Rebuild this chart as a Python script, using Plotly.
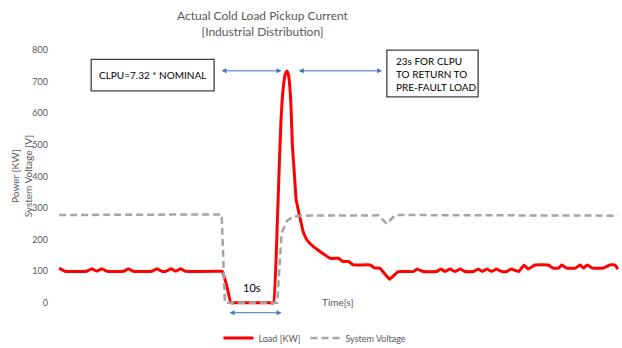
import plotly.graph_objects as go

# Load [KW] trace (time in s, value)
load_t = [0, 1.1, 5.1, 6.0, 7.0, 7.9, 8.8, 12.0, 12.8, 13.7, 17.2, 18.1, 19.0, 19.8, 20.7, 21.6, 22.5, 23.4,
          29.6, 30.2, 31.1, 31.8, 32.5, 39.0, 39.7, 40.4, 40.7, 41.1, 41.5, 41.9, 42.2, 42.5, 42.9, 43.2, 43.6, 43.9, 44.6, 45.2,
          45.9, 47.1, 50.2, 51.7, 52.6, 53.6, 54.5, 57.6, 58.5, 59.4, 61.2, 62.8, 65.6, 66.3, 67.4, 69.9, 70.7,
          71.5, 72.4, 73.3, 74.3, 75.2, 76.7, 77.6, 78.4, 79.2, 80.1, 81.0, 82.0, 82.9, 83.7, 85.1, 86.1, 86.9,
          88.1, 90.6, 91.5, 92.5, 93.1, 94.0, 95.6, 96.5, 97.1, 97.8, 98.8, 100.8, 102.0, 102.9, 103.5]
load_v = [110, 100, 100, 108, 100, 108, 100, 100, 108, 100, 100, 108, 100, 100, 108, 100, 108, 100,
          100, 100, 50, 0, 0, 0, 0, 250, 400, 580, 680, 725, 734, 720, 640, 500, 400, 326, 270, 225,
          199, 178, 141, 141, 131, 131, 120, 120, 110, 110, 75, 99, 99, 107, 99, 99, 107,
          99, 107, 99, 107, 99, 99, 107, 99, 107, 99, 107, 99, 99, 107, 99, 119, 107,
          120, 120, 110, 110, 120, 110, 110, 120, 110, 120, 110, 110, 120, 120, 107]

# System Voltage [V] trace
volt_t = [0, 29.8, 30.1, 30.7, 40.4, 41.2, 42.2, 43.4, 45.0, 59.1, 60.7, 62.2, 103.5]
volt_v = [278, 278, 280, 0, 0, 221, 260, 273, 276, 277, 250, 278, 276]

TXT = "#595959"
FONT = "Lato"

fig = go.Figure()
fig.add_trace(go.Scatter(x=load_t, y=load_v, mode="lines", name="Load [KW]",
                         line=dict(color="#FF0000", width=3, shape="spline", smoothing=0.3)))
fig.add_trace(go.Scatter(x=volt_t, y=volt_v, mode="lines", name="System Voltage",
                         line=dict(color="#A5A5A5", width=2.5, dash="7px,4px")))

fig.update_layout(
    width=622, height=348,
    margin=dict(l=57, r=3, t=47, b=42),
    paper_bgcolor="white", plot_bgcolor="white",
    font=dict(family=FONT, color=TXT, size=10),
    xaxis=dict(range=[-0.4, 103.7], showticklabels=False, showgrid=False, zeroline=False,
               showline=False, ticks=""),
    yaxis=dict(range=[-10, 810], tickvals=[0, 100, 200, 300, 400, 500, 600, 700, 800],
               showgrid=False, zeroline=False, showline=False, ticks="",
               ticklabelstandoff=8, tickfont=dict(size=9, color=TXT)),
    legend=dict(orientation="h", x=0.459, xanchor="center",
                yref="container", y=1 - 338 / 348, yanchor="middle",
                font=dict(size=9, color=TXT), bgcolor="rgba(0,0,0,0)"),
    showlegend=True,
)

# Boxes
fig.add_shape(type="rect", xref="x", yref="y", x0=5.93, x1=28.7, y0=671, y1=771,
              line=dict(color="#404040", width=1.3), fillcolor="white")
fig.add_shape(type="rect", xref="x", yref="y", x0=60.7, x1=77.6, y0=652, y1=800,
              line=dict(color="#404040", width=1.3), fillcolor="white")

ann = []
ann.append(dict(x=(263 - 57) / 562, y=(306 - 6) / 259, xref="paper", yref="paper",
                xanchor="center", yanchor="top",
                text="Actual Cold Load Pickup Current<br>[Industrial Distribution]", showarrow=False,
                font=dict(size=12, color=TXT)))
ann.append(dict(x=17.3, y=721, xref="x", yref="y", text="CLPU=7.32 * NOMINAL", showarrow=False,
                font=dict(size=10, color="black")))
ann.append(dict(x=62.0, y=725.6, xref="x", yref="y", xanchor="left", align="left",
                text="23s FOR CLPU<br>TO RETURN TO<br>PRE-FAULT LOAD", showarrow=False,
                font=dict(size=10, color="black")))
ann.append(dict(x=35.7, y=49.6, xref="x", yref="y", text="10s", showarrow=False,
                font=dict(size=11, color="black")))
ann.append(dict(x=51.7, y=-0.015, xref="x", yref="paper", text="Time[s]", showarrow=False,
                font=dict(size=10, color=TXT)))
ann.append(dict(x=-0.063, y=0.499, xref="paper", yref="paper", xanchor="center", yanchor="middle",
                text="Power [KW]<br>System Voltage [V]",
                textangle=-90, showarrow=False, font=dict(size=10, color=TXT)))

ARROW = "#4472C4"
def harrow(x_head, y, length_px, yref="y"):
    return dict(x=x_head, y=y, xref="x", yref=yref, ax=-length_px, ay=0, axref="pixel", ayref="pixel",
                text="", showarrow=True, arrowhead=2, startarrowhead=2, arrowside="end+start",
                arrowsize=1, arrowwidth=1, arrowcolor=ARROW, standoff=0, startstandoff=0)

ann.append(harrow(41.2, 734.5, (41.2 - 29.8) * 5.4))
ann.append(harrow(59.8, 734.5, (59.8 - 44.1) * 5.4))
ann.append(harrow(41.2, -0.0259, (41.2 - 31.3) * 5.4, yref="paper"))

fig.update_layout(annotations=ann)
fig.write_html("out.html")
